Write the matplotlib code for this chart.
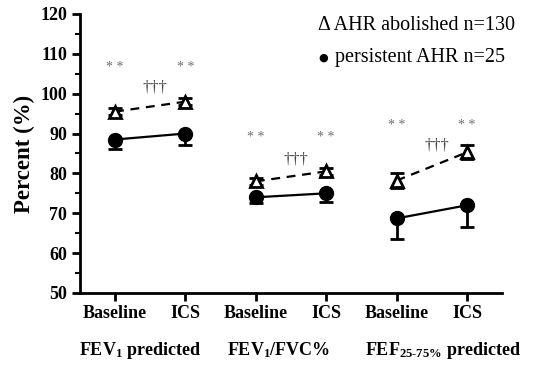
import matplotlib.pyplot as plt
import matplotlib as mpl

mpl.rcParams.update({
    "font.family": "Liberation Serif",
    "mathtext.fontset": "custom",
    "mathtext.rm": "Liberation Serif:bold",
    "mathtext.it": "Liberation Serif:bold",
    "mathtext.bf": "Liberation Serif:bold",
})

tick_labels = ["Baseline", "ICS"] * 3
group_labels = ["FEV$_1$ predicted", "FEV$_1$/FVC%", "FEF$_{25\u201075\\%}$ predicted"]

# AHR abolished (triangles), mean and symmetric error
abolished = [95.5, 98.0, 78.0, 80.5, 78.2, 85.3]
abolished_err = [0.8, 0.8, 0.8, 0.8, 1.8, 1.8]
# persistent AHR (circles), mean and downward error
persistent = [88.5, 90.0, 74.0, 75.0, 68.7, 72.0]
persistent_err = [2.5, 2.8, 1.5, 2.3, 5.2, 5.5]

star_y = [106.5, 106.5, 89.0, 89.0, 92.0, 92.0]
dagger_y = [99.5, 81.5, 85.0]

x = list(range(1, 7))

fig = plt.figure(figsize=(5.36, 3.68), dpi=100)
ax = fig.add_axes([0.149, 0.204, 0.788, 0.758])

for g in range(3):
    i, j = 2 * g, 2 * g + 2
    xs = x[i:j]
    ax.errorbar(xs, abolished[i:j], yerr=abolished_err[i:j], fmt="^--", color="black",
                mfc="white", mec="black", mew=2, ms=9, lw=1.6, elinewidth=2,
                capsize=5, capthick=2, dashes=(4, 3), zorder=3)
    ax.errorbar(xs, persistent[i:j], yerr=[persistent_err[i:j], [0, 0]], fmt="o-",
                color="black", ms=10, lw=1.6, elinewidth=2, capsize=5, capthick=2,
                zorder=3)
    ax.text(x[i] + 0.57, dagger_y[g], "\u2020\u2020\u2020", ha="center", va="bottom",
            color="#444444", fontsize=12)

for xi, sy in zip(x, star_y):
    ax.text(xi, sy, "* *", ha="center", va="center", color="#707070", fontsize=10)

ax.set_xlim(0.5, 6.5)
ax.set_ylim(50, 120)
ax.set_yticks(range(50, 121, 10))
ax.set_yticks(range(55, 120, 10), minor=True)
ax.set_xticks(x)
ax.set_xticklabels(tick_labels, fontsize=13, fontweight="bold")
for lab in ax.get_yticklabels():
    lab.set_fontweight("bold")
    lab.set_fontsize(13)
ax.spines["top"].set_visible(False)
ax.spines["right"].set_visible(False)
ax.spines["left"].set_linewidth(2)
ax.spines["bottom"].set_linewidth(2)
ax.tick_params(axis="both", which="major", width=2, length=6, pad=3)
ax.tick_params(axis="y", which="minor", width=1.5, length=3.5)
ax.set_ylabel("Percent (%)", fontsize=16.5, fontweight="bold", labelpad=4)

# group labels, left edges
group_x = [0.49, 2.59, 4.55]
for gx, lab in zip(group_x, group_labels):
    ax.text(gx, -0.17, lab, transform=ax.get_xaxis_transform(),
            ha="left", va="top", fontsize=13, fontweight="bold")

fig.text(0.593, 0.93, "\u0394 AHR abolished n=130", fontsize=14.5, va="center")
fig.text(0.594, 0.843, "\u25cf", fontsize=8, va="center", family="DejaVu Sans")
fig.text(0.625, 0.843, "persistent AHR n=25", fontsize=14.5, va="center")

fig.savefig("out.png", dpi=100)
